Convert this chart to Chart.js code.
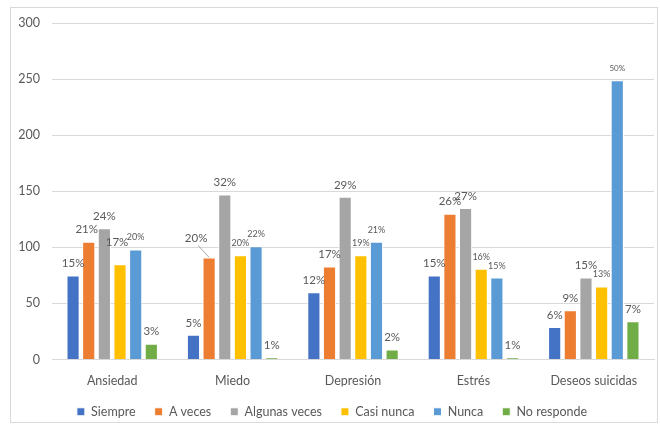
<!DOCTYPE html>
<html>
<head>
<meta charset="utf-8">
<script src="https://cdn.jsdelivr.net/npm/chart.js@4.4.1/dist/chart.umd.min.js"></script>
<style>
  body { margin: 0; background: #fff; }
  #frame {
    position: absolute; left: 10px; top: 7px;
    width: 646px; height: 414px;
    border: 1px solid #d9d9d9;
  }
  #wrap { position: absolute; left: 0; top: 0; width: 660px; height: 428px; }
</style>
</head>
<body>
<div id="frame"></div>
<div id="wrap"><canvas id="chart"></canvas></div>
<script>
// categorias y series
const categories = ["Ansiedad", "Miedo", "Depresión", "Estrés", "Deseos suicidas"];
const seriesNames = ["Siempre", "A veces", "Algunas veces", "Casi nunca", "Nunca", "No responde"];
const siempre = [75, 22, 60, 75, 29];
const aVeces = [105, 91, 83, 130, 44];
const algunasVeces = [117, 147, 145, 135, 73];
const casiNunca = [85, 93, 93, 81, 65];
const nunca = [98, 101, 105, 73, 249];
const noResponde = [14, 2, 9, 2, 34];

const pctSiempre = ["15%", "5%", "12%", "15%", "6%"];
const pctAVeces = ["21%", "20%", "17%", "26%", "9%"];
const pctAlgunas = ["24%", "32%", "29%", "27%", "15%"];
const pctCasi = ["17%", "20%", "19%", "16%", "13%"];
const pctNunca = ["20%", "22%", "21%", "15%", "50%"];
const pctNoResp = ["3%", "1%", "2%", "1%", "7%"];

const yTicks = [0, 50, 100, 150, 200, 250, 300];

const colors = ["#4472C4", "#ED7D31", "#A5A5A5", "#FFC000", "#5B9BD5", "#70AD47"];
const values = [siempre, aVeces, algunasVeces, casiNunca, nunca, noResponde];
const pcts = [pctSiempre, pctAVeces, pctAlgunas, pctCasi, pctNunca, pctNoResp];

const FONT = "Lato, 'Liberation Sans', sans-serif";

// etiquetas de porcentaje encima de cada barra
const pctLabels = {
  id: "pctLabels",
  afterDatasetsDraw(chart) {
    const ctx = chart.ctx;
    ctx.save();
    ctx.fillStyle = "#595959";
    ctx.textAlign = "center";
    ctx.textBaseline = "middle";
    chart.data.datasets.forEach((ds, di) => {
      const meta = chart.getDatasetMeta(di);
      meta.data.forEach((bar, i) => {
        let small = false;
        if (di === 4 || (di === 3 && i > 0)) small = true;
        let size = small ? 9 : 11.5;
        if (di === 4 && i === 4) size = 8;
        ctx.font = size + "px " + FONT;
        let x = bar.x;
        let y = bar.y - 12;
        // etiqueta desplazada con linea guia (Miedo / A veces)
        if (di === 1 && i === 1) {
          x = bar.x - 13;
          y = bar.y - 19;
          ctx.strokeStyle = "#a6a6a6";
          ctx.lineWidth = 1;
          ctx.beginPath();
          ctx.moveTo(x + 2, y + 7);
          ctx.lineTo(bar.x, bar.y);
          ctx.stroke();
        }
        if (di === 1 && i === 0) x -= 2;
        if (di === 3 && i === 0) { x -= 3; y = bar.y - 22; }
        ctx.fillText(pcts[di][i], x, y);
      });
    });
    ctx.restore();
  }
};

new Chart(document.getElementById("chart"), {
  type: "bar",
  data: {
    labels: categories,
    datasets: seriesNames.map((name, k) => ({
      label: name,
      data: values[k],
      backgroundColor: colors[k],
      borderColor: "#ffffff",
      borderWidth: 1,
      categoryPercentage: 0.78,
      barPercentage: 0.84
    }))
  },
  options: {
    responsive: true,
    maintainAspectRatio: false,
    animation: false,
    layout: { padding: { left: 10, right: 6, top: 23, bottom: 0 } },
    scales: {
      x: {
        grid: { display: false, drawTicks: false },
        border: { color: "#d9d9d9" },
        ticks: { color: "#595959", padding: 14, font: { family: FONT, size: 12.5 } },
        afterFit(scale) { scale.height = 27; }
      },
      y: {
        min: 0,
        max: 300,
        afterBuildTicks(scale) { scale.ticks = yTicks.map(v => ({ value: v })); },
        grid: { color: "#d9d9d9", drawTicks: false },
        border: { display: false },
        ticks: { color: "#595959", padding: 12, font: { family: FONT, size: 12.5 } },
        afterFit(scale) { scale.width = 42; }
      }
    },
    plugins: {
      legend: {
        position: "bottom",
        labels: {
          color: "#595959",
          boxWidth: 8,
          boxHeight: 8,
          padding: 19,
          font: { family: FONT, size: 12.5 }
        }
      },
      tooltip: { enabled: false }
    }
  },
  plugins: [pctLabels]
});
</script>
</body>
</html>
